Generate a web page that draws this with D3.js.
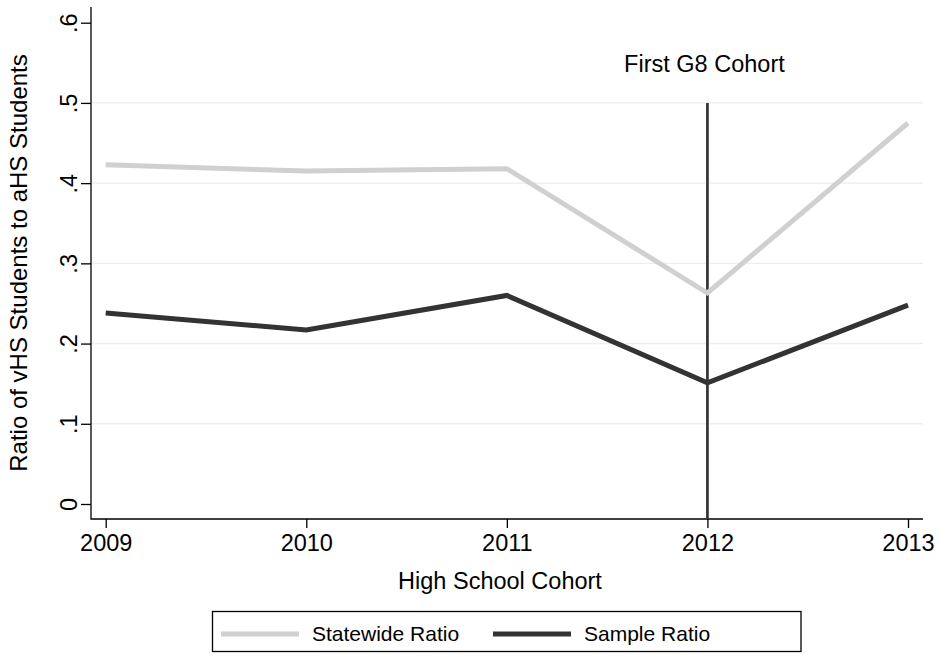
<!DOCTYPE html>
<html>
<head>
<meta charset="utf-8">
<script src="https://cdn.jsdelivr.net/npm/d3@7"></script>
<style>
  body { margin: 0; background: #fff; }
  text { font-family: "Liberation Sans", Arial, sans-serif; fill: #000; }
</style>
</head>
<body>
<div id="chart"></div>
<script>
// vHS / aHS ratio by cohort, line chart w/ cutoff marker

const cohorts = [2009, 2010, 2011, 2012, 2013];
const statewide = [0.423, 0.415, 0.418, 0.263, 0.475];
const sample = [0.238, 0.217, 0.260, 0.151, 0.248];
const yTicks = [0, 0.1, 0.2, 0.3, 0.4, 0.5, 0.6];
const yTickLabels = ["0", ".1", ".2", ".3", ".4", ".5", ".6"];
const gridVals = [0.1, 0.2, 0.3, 0.4, 0.5];
const cutoffYear = 2012, cutoffTop = 0.5;
const seriesNames = ["Statewide Ratio", "Sample Ratio"];

const width = 939, height = 655;
const plot = {left: 91, right: 923, top: 7, bottom: 519};
const fs = 23.5;

const x = d3.scaleLinear().domain([2009, 2013]).range([105.7, 908]);
const y = d3.scaleLinear().domain([0, 0.6]).range([504, 22.7]);

const svg = d3.select("#chart").append("svg")
  .attr("width", width)
  .attr("height", height);

// gridlines
svg.append("g")
  .selectAll("line")
  .data(gridVals)
  .join("line")
  .attr("x1", plot.left).attr("x2", plot.right)
  .attr("y1", d => y(d)).attr("y2", d => y(d))
  .attr("stroke", "#e8f0f2")
  .attr("stroke-width", 1.4);

// y axis
const yAxis = svg.append("g")
  .attr("transform", `translate(${plot.left},0)`)
  .call(d3.axisLeft(y).tickValues(yTicks).tickSize(10).tickSizeOuter(0)
    .tickFormat((d, i) => yTickLabels[i]));
yAxis.select(".domain").remove();
yAxis.selectAll(".tick line").attr("stroke", "#000").attr("stroke-width", 1.3);
yAxis.selectAll(".tick text")
  .attr("x", null).attr("dy", null)
  .attr("transform", "translate(-14,0) rotate(-90)")
  .attr("text-anchor", "middle")
  .attr("font-size", fs);

// x axis
const xAxis = svg.append("g")
  .attr("transform", `translate(0,${plot.bottom})`)
  .call(d3.axisBottom(x).tickValues(cohorts).tickSize(9).tickSizeOuter(0)
    .tickFormat(d3.format("d")));
xAxis.select(".domain").remove();
xAxis.selectAll(".tick line").attr("stroke", "#000").attr("stroke-width", 1.3);
xAxis.selectAll(".tick text")
  .attr("y", 32).attr("dy", null)
  .attr("font-size", fs);

// axis lines
svg.append("path")
  .attr("d", `M${plot.left},${plot.top}V${plot.bottom}H${plot.right}`)
  .attr("fill", "none")
  .attr("stroke", "#000")
  .attr("stroke-width", 1.3);

// cutoff line
svg.append("line")
  .attr("x1", x(cutoffYear)).attr("x2", x(cutoffYear))
  .attr("y1", y(cutoffTop)).attr("y2", plot.bottom)
  .attr("stroke", "#333")
  .attr("stroke-width", 2.7);

svg.append("text")
  .attr("x", x(cutoffYear) - 3)
  .attr("y", 72)
  .attr("text-anchor", "middle")
  .attr("font-size", fs)
  .text("First G8 Cohort");

// series
const line = d3.line().x(d => x(d[0])).y(d => y(d[1]));
const colors = ["#d0d0d0", "#333333"];
[statewide, sample].forEach((vals, k) => {
  svg.append("path")
    .datum(cohorts.map((c, i) => [c, vals[i]]))
    .attr("fill", "none")
    .attr("stroke", colors[k])
    .attr("stroke-width", 5)
    .attr("d", line);
});

// axis titles
svg.append("text")
  .attr("transform", `translate(27,${(plot.top + plot.bottom) / 2}) rotate(-90)`)
  .attr("text-anchor", "middle")
  .attr("font-size", 24)
  .text("Ratio of vHS Students to aHS Students");

svg.append("text")
  .attr("x", (plot.left + plot.right) / 2 - 7)
  .attr("y", 589)
  .attr("text-anchor", "middle")
  .attr("font-size", fs)
  .text("High School Cohort");

// legend
const lg = svg.append("g");
lg.append("rect")
  .attr("x", 212.5).attr("y", 611.5)
  .attr("width", 588.5).attr("height", 40)
  .attr("fill", "#fff")
  .attr("stroke", "#000")
  .attr("stroke-width", 1.3);
const legX = [221, 493];
seriesNames.forEach((name, k) => {
  lg.append("line")
    .attr("x1", legX[k]).attr("x2", legX[k] + 78)
    .attr("y1", 634).attr("y2", 634)
    .attr("stroke", colors[k])
    .attr("stroke-width", 5);
  lg.append("text")
    .attr("x", legX[k] + 91)
    .attr("y", 641)
    .attr("font-size", 21)
    .text(name);
});
</script>
</body>
</html>
